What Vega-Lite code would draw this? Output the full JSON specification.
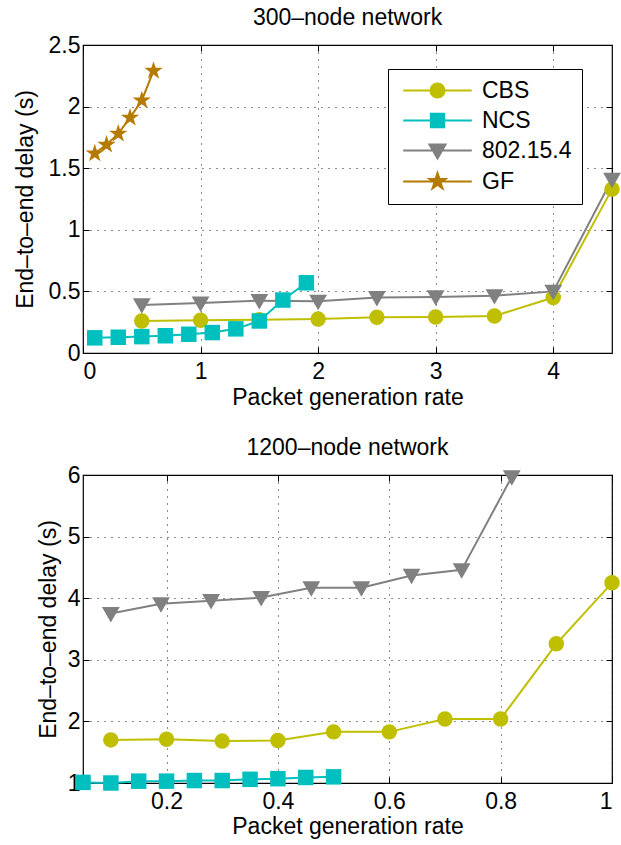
{
  "$schema": "https://vega.github.io/schema/vega-lite/v6.json",
  "padding": {"left": 13, "top": 6, "right": 3, "bottom": 5},
  "background": "white",
  "config": {
    "font": "Liberation Sans",
    "view": {"stroke": "black", "strokeWidth": 1.2},
    "title": {"fontSize": 23, "fontWeight": "normal", "font": "Liberation Sans", "color": "black", "offset": 4},
    "axis": {
      "labelFont": "Liberation Sans", "labelFontSize": 23, "labelColor": "black",
      "titleFont": "Liberation Sans", "titleFontSize": 23, "titleFontWeight": "normal", "titleColor": "black",
      "domain": false, "tickColor": "black", "tickSize": -6, "tickWidth": 1,
      "labelPadding": 9, "gridColor": "black", "gridDash": [1, 6], "gridOpacity": 0.9, "gridWidth": 1
    },
    "axisX": {"labelPadding": 13}
  },
  "spacing": 26,
  "resolve": {"scale": {"color": "independent", "fill": "independent", "shape": "independent"}, "legend": {"color": "independent", "fill": "independent", "shape": "independent"}},
  "datasets": {
    "top": [
      {"series": "CBS", "x": 0.5, "y": 0.26}, {"series": "CBS", "x": 1, "y": 0.265}, {"series": "CBS", "x": 1.5, "y": 0.27},
      {"series": "CBS", "x": 2, "y": 0.275}, {"series": "CBS", "x": 2.5, "y": 0.29}, {"series": "CBS", "x": 3, "y": 0.293},
      {"series": "CBS", "x": 3.5, "y": 0.3}, {"series": "CBS", "x": 4, "y": 0.45}, {"series": "CBS", "x": 4.5, "y": 1.33},
      {"series": "NCS", "x": 0.1, "y": 0.123}, {"series": "NCS", "x": 0.3, "y": 0.128}, {"series": "NCS", "x": 0.5, "y": 0.133},
      {"series": "NCS", "x": 0.7, "y": 0.14}, {"series": "NCS", "x": 0.9, "y": 0.152}, {"series": "NCS", "x": 1.1, "y": 0.166},
      {"series": "NCS", "x": 1.3, "y": 0.196}, {"series": "NCS", "x": 1.5, "y": 0.26}, {"series": "NCS", "x": 1.7, "y": 0.43},
      {"series": "NCS", "x": 1.9, "y": 0.57},
      {"series": "802.15.4", "x": 0.5, "y": 0.39}, {"series": "802.15.4", "x": 1, "y": 0.405}, {"series": "802.15.4", "x": 1.5, "y": 0.425},
      {"series": "802.15.4", "x": 2, "y": 0.42}, {"series": "802.15.4", "x": 2.5, "y": 0.45}, {"series": "802.15.4", "x": 3, "y": 0.455},
      {"series": "802.15.4", "x": 3.5, "y": 0.465}, {"series": "802.15.4", "x": 4, "y": 0.5}, {"series": "802.15.4", "x": 4.5, "y": 1.41},
      {"series": "GF", "x": 0.1, "y": 1.62}, {"series": "GF", "x": 0.2, "y": 1.69}, {"series": "GF", "x": 0.3, "y": 1.78},
      {"series": "GF", "x": 0.4, "y": 1.91}, {"series": "GF", "x": 0.5, "y": 2.05}, {"series": "GF", "x": 0.6, "y": 2.29}
    ],
    "bottom": [
      {"series": "CBS", "x": 0.1, "y": 1.7}, {"series": "CBS", "x": 0.2, "y": 1.71}, {"series": "CBS", "x": 0.3, "y": 1.68},
      {"series": "CBS", "x": 0.4, "y": 1.69}, {"series": "CBS", "x": 0.5, "y": 1.83}, {"series": "CBS", "x": 0.6, "y": 1.83},
      {"series": "CBS", "x": 0.7, "y": 2.04}, {"series": "CBS", "x": 0.8, "y": 2.04}, {"series": "CBS", "x": 0.9, "y": 3.26},
      {"series": "CBS", "x": 1.0, "y": 4.25},
      {"series": "NCS", "x": 0.05, "y": 1.01}, {"series": "NCS", "x": 0.1, "y": 1.0}, {"series": "NCS", "x": 0.15, "y": 1.03},
      {"series": "NCS", "x": 0.2, "y": 1.03}, {"series": "NCS", "x": 0.25, "y": 1.04}, {"series": "NCS", "x": 0.3, "y": 1.04},
      {"series": "NCS", "x": 0.35, "y": 1.06}, {"series": "NCS", "x": 0.4, "y": 1.07}, {"series": "NCS", "x": 0.45, "y": 1.09},
      {"series": "NCS", "x": 0.5, "y": 1.1},
      {"series": "802.15.4", "x": 0.1, "y": 3.75}, {"series": "802.15.4", "x": 0.19, "y": 3.91}, {"series": "802.15.4", "x": 0.28, "y": 3.96},
      {"series": "802.15.4", "x": 0.37, "y": 4.01}, {"series": "802.15.4", "x": 0.46, "y": 4.17}, {"series": "802.15.4", "x": 0.55, "y": 4.17},
      {"series": "802.15.4", "x": 0.64, "y": 4.37}, {"series": "802.15.4", "x": 0.73, "y": 4.46}, {"series": "802.15.4", "x": 0.82, "y": 5.97}
    ]
  },
  "vconcat": [
    {
      "title": "300–node network",
      "width": 529, "height": 308,
      "data": {"name": "top"},
      "resolve": {"axis": {"x": "independent", "y": "independent"}},
      "layer": [
        {
          "mark": {"type": "line", "strokeWidth": 2},
          "encoding": {
            "x": {"field": "x", "type": "quantitative", "scale": {"domain": [0, 4.5], "nice": false}, "axis": {"title": "Packet generation rate", "values": [0, 1, 2, 3, 4], "format": "~g", "grid": true, "titlePadding": 3}},
            "y": {"field": "y", "type": "quantitative", "scale": {"domain": [0, 2.5], "nice": false}, "axis": {"title": "End–to–end delay (s)", "values": [0, 0.5, 1, 1.5, 2, 2.5], "format": "~g", "grid": true, "titlePadding": 11}},
            "color": {
              "field": "series", "type": "nominal",
              "scale": {"domain": ["CBS", "NCS", "802.15.4", "GF"], "range": ["#bfbf00", "#00bfbf", "#808080", "#b57a00"]},
              "legend": {
                "title": null, "orient": "none", "legendX": 305, "legendY": 24,
                "labelFont": "Liberation Sans", "labelFontSize": 23, "labelColor": "black",
                "strokeColor": "black", "fillColor": "white", "padding": 10, "cornerRadius": 0,
                "symbolSize": 196, "symbolOffset": 28, "labelOffset": 33, "rowPadding": 6,
                "encode": {
                  "symbols": {
                    "update": {
                      "shape": {"signal": "datum.value === 'CBS' ? 'M-4.9,0H4.9M-1,0A1,1 0 1,1 1,0A1,1 0 1,1 -1,0Z' : datum.value === 'NCS' ? 'M-4.9,0H4.9M-0.95,-0.95H0.95V0.95H-0.95Z' : datum.value === '802.15.4' ? 'M-4.9,0H4.9M-1.15,-0.85L1.15,-0.85L0,1.15Z' : 'M-4.9,0H4.9M0,-1.2L0.27,-0.37L1.14,-0.37L0.44,0.14L0.71,0.97L0,0.46L-0.71,0.97L-0.44,0.14L-1.14,-0.37L-0.27,-0.37Z'"},
                      "fill": {"signal": "datum.value === 'CBS' ? '#bfbf00' : datum.value === 'NCS' ? '#00bfbf' : datum.value === '802.15.4' ? '#808080' : '#b57a00'"},
                      "stroke": {"signal": "datum.value === 'CBS' ? '#bfbf00' : datum.value === 'NCS' ? '#00bfbf' : datum.value === '802.15.4' ? '#808080' : '#b57a00'"},
                      "strokeWidth": {"value": 2},
                      "opacity": {"value": 1}
                    }
                  }
                }
              }
            }
          }
        },
        {
          "mark": {"type": "point", "filled": true, "size": 240, "opacity": 1},
          "encoding": {
            "x": {"field": "x", "type": "quantitative", "axis": {"orient": "top", "title": null, "labels": false, "grid": false, "values": [0, 1, 2, 3, 4]}},
            "y": {"field": "y", "type": "quantitative", "axis": {"orient": "right", "title": null, "labels": false, "grid": false, "values": [0, 0.5, 1, 1.5, 2, 2.5]}},
            "fill": {"field": "series", "type": "nominal", "scale": {"domain": ["NCS", "CBS", "GF", "802.15.4"], "range": ["#00bfbf", "#bfbf00", "#b57a00", "#808080"]}, "legend": null},
            "shape": {"field": "series", "type": "nominal", "scale": {"domain": ["GF", "802.15.4", "NCS", "CBS"], "range": ["M0,-1.25L0.28,-0.39L1.19,-0.39L0.46,0.15L0.74,1.01L0,0.48L-0.74,1.01L-0.46,0.15L-1.19,-0.39L-0.28,-0.39Z", "M-1.15,-0.85L1.15,-0.85L0,1.15Z", "square", "circle"]}, "legend": null}
          }
        }
      ]
    },
    {
      "title": "1200–node network",
      "width": 529, "height": 308,
      "data": {"name": "bottom"},
      "resolve": {"axis": {"x": "independent", "y": "independent"}},
      "layer": [
        {
          "mark": {"type": "line", "strokeWidth": 2},
          "encoding": {
            "x": {"field": "x", "type": "quantitative", "scale": {"domain": [0.05, 1], "nice": false, "zero": false}, "axis": {"title": "Packet generation rate", "values": [0.2, 0.4, 0.6, 0.8, 1], "format": "~g", "grid": true, "titlePadding": 2}},
            "y": {"field": "y", "type": "quantitative", "scale": {"domain": [1, 6], "nice": false, "zero": false}, "axis": {"title": "End–to–end delay (s)", "values": [1, 2, 3, 4, 5, 6], "format": "~g", "grid": true, "titlePadding": 7}},
            "color": {"field": "series", "type": "nominal", "scale": {"domain": ["CBS", "NCS", "802.15.4", "GF"], "range": ["#bfbf00", "#00bfbf", "#808080", "#b57a00"]}, "legend": null}
          }
        },
        {
          "mark": {"type": "point", "filled": true, "size": 240, "opacity": 1},
          "encoding": {
            "x": {"field": "x", "type": "quantitative", "axis": {"orient": "top", "title": null, "labels": false, "grid": false, "values": [0.2, 0.4, 0.6, 0.8, 1]}},
            "y": {"field": "y", "type": "quantitative", "axis": {"orient": "right", "title": null, "labels": false, "grid": false, "values": [1, 2, 3, 4, 5, 6]}},
            "fill": {"field": "series", "type": "nominal", "scale": {"domain": ["NCS", "CBS", "GF", "802.15.4"], "range": ["#00bfbf", "#bfbf00", "#b57a00", "#808080"]}, "legend": null},
            "shape": {"field": "series", "type": "nominal", "scale": {"domain": ["GF", "802.15.4", "NCS", "CBS"], "range": ["M0,-1.25L0.28,-0.39L1.19,-0.39L0.46,0.15L0.74,1.01L0,0.48L-0.74,1.01L-0.46,0.15L-1.19,-0.39L-0.28,-0.39Z", "M-1.15,-0.85L1.15,-0.85L0,1.15Z", "square", "circle"]}, "legend": null}
          }
        }
      ]
    }
  ]
}
